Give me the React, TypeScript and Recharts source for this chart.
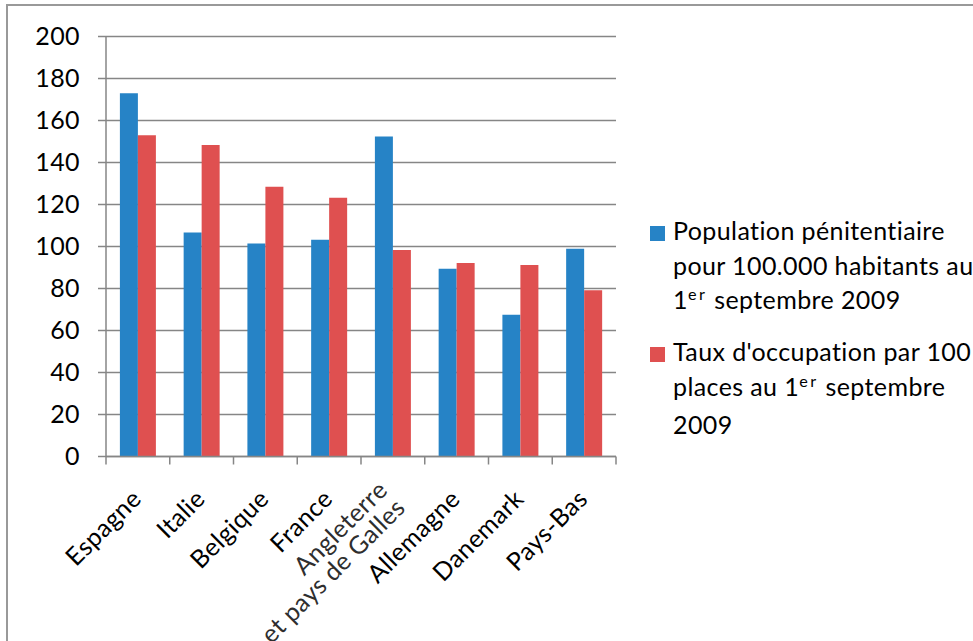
import { BarChart, Bar, XAxis, YAxis, CartesianGrid, Legend } from "recharts";

const categories = [
  "Espagne",
  "Italie",
  "Belgique",
  "France",
  "Angleterre\net pays de Galles",
  "Allemagne",
  "Danemark",
  "Pays-Bas",
];
// prisoners per 100,000 inhabitants, 1 Sept 2009
const population = [173, 106.7, 101.4, 103.2, 152.4, 89.4, 67.5, 98.9];
// occupancy per 100 places, 1 Sept 2009
const occupation = [153, 148.3, 128.4, 123.2, 98.3, 92.2, 91.2, 79.2];
const yTicks = [0, 20, 40, 60, 80, 100, 120, 140, 160, 180, 200];

const populationLines = ["Population pénitentiaire", "pour 100.000 habitants au", "1er septembre 2009"];
const occupationLines = ["Taux d'occupation par 100", "places au 1er septembre", "2009"];

const BLUE = "#2683c6";
const RED = "#df5050";
const GRID = "#868686";
const FONT = "Lato, Carlito, Calibri, sans-serif";
const FONT_SIZE = 25;
const TICK_LEN = 8;

const data = categories.map((name, i) => ({
  name,
  population: population[i],
  occupation: occupation[i],
}));

// x ticks sit on the band edges, labels are rotated under the band centre
function CategoryTick(props: any) {
  const { x, y, payload, index, visibleTicksCount } = props;
  const half = payload?.offset ?? 31.875;
  const axisY = y - TICK_LEN;
  const lines = String(payload.value).split("\n");
  const lh = 25;
  return (
    <g>
      <line x1={x - half} x2={x - half} y1={axisY} y2={axisY + TICK_LEN} stroke={GRID} strokeWidth={1.5} />
      {index === visibleTicksCount - 1 && (
        <line x1={x + half} x2={x + half} y1={axisY} y2={axisY + TICK_LEN} stroke={GRID} strokeWidth={1.5} />
      )}
      <g transform={`translate(${x + 5}, ${y + 36}) rotate(-45)`}>
        {lines.map((line, i) => (
          <text
            key={i}
            x={0}
            y={(i - (lines.length - 1) / 2) * lh}
            textAnchor="end"
            fontSize={FONT_SIZE}
            letterSpacing={0.4}
            fill={lines.length > 1 ? "#2e2e2e" : "#000"}
          >
            {line}
          </text>
        ))}
      </g>
    </g>
  );
}

function withSup(line: string) {
  const parts = line.split("1er");
  if (parts.length === 1) return line;
  return (
    <>
      {parts[0]}1
      <span style={{ fontSize: "0.65em", position: "relative", top: "-0.55em", letterSpacing: 2.5 }}>er</span>
      {parts[1]}
    </>
  );
}

function SeriesLegend() {
  const items = [
    { color: BLUE, lines: populationLines },
    { color: RED, lines: occupationLines },
  ];
  return (
    <div style={{ fontFamily: FONT, fontSize: FONT_SIZE, lineHeight: "34.5px", letterSpacing: 0.4, color: "#000" }}>
      {items.map((it, k) => (
        <div key={k} style={{ display: "flex", alignItems: "flex-start", marginBottom: k === 0 ? 13.5 : 0 }}>
          <span
            style={{ width: 15, height: 15, background: it.color, marginTop: 13, marginRight: 8, flex: "none" }}
          />
          <div>
            {it.lines.map((l, i) => (
              <div key={i} style={{ whiteSpace: "nowrap" }}>
                {withSup(l)}
              </div>
            ))}
          </div>
        </div>
      ))}
    </div>
  );
}

export default function App() {
  return (
    <div
      style={{
        position: "absolute",
        left: 0,
        top: 0,
        width: 973,
        height: 641,
        overflow: "hidden",
        background: "#fff",
        fontFamily: FONT,
      }}
    >
      <div
        style={{
          position: "absolute",
          left: 6,
          top: 4,
          width: 1000,
          height: 700,
          border: "2px solid #999",
          boxSizing: "border-box",
        }}
      />
      <BarChart
        width={973}
        height={641}
        data={data}
        margin={{ top: 36.5, right: 357, left: 46, bottom: 124.5 }}
        barGap={0}
        barCategoryGap="21.8%"
      >
        <CartesianGrid vertical={false} stroke={GRID} strokeWidth={1.5} />
        <XAxis
          dataKey="name"
          height={60}
          interval={0}
          axisLine={{ stroke: GRID, strokeWidth: 1.5 }}
          tickLine={false}
          tickSize={TICK_LEN}
          tickMargin={0}
          tick={<CategoryTick />}
        />
        <YAxis
          domain={[0, 200]}
          ticks={yTicks}
          interval={0}
          width={60}
          axisLine={{ stroke: GRID, strokeWidth: 1.5 }}
          tickLine={{ stroke: GRID, strokeWidth: 1.5 }}
          tickSize={TICK_LEN}
          tickMargin={18}
          tick={{ fill: "#000", fontSize: FONT_SIZE, letterSpacing: 0.4 }}
        />
        <Legend
          layout="vertical"
          align="center"
          verticalAlign="middle"
          wrapperStyle={{ left: 650, top: 213, width: 323 }}
          content={() => <SeriesLegend />}
        />
        <Bar dataKey="population" fill={BLUE} isAnimationActive={false} />
        <Bar dataKey="occupation" fill={RED} isAnimationActive={false} />
      </BarChart>
    </div>
  );
}
